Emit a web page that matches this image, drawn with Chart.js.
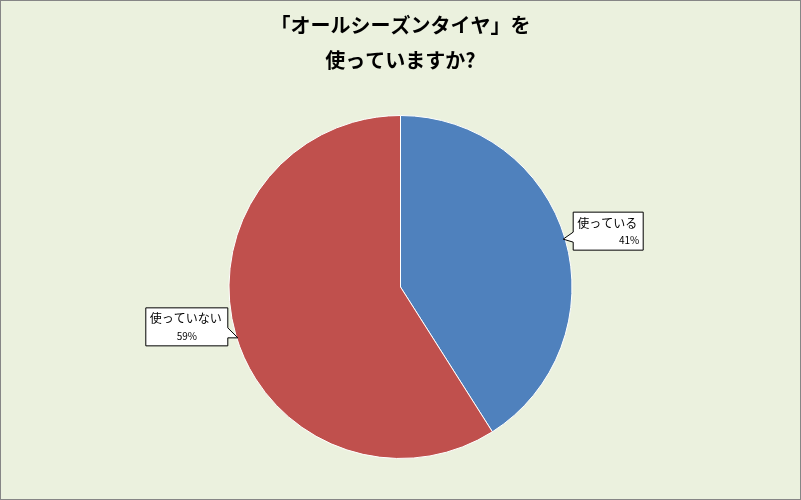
<!DOCTYPE html>
<html>
<head>
<meta charset="utf-8">
<script src="https://cdn.jsdelivr.net/npm/chart.js@4"></script>
<style>
  body { margin: 0; background: #fff; }
  #wrap { width: 801px; height: 500px; }
</style>
</head>
<body>
<div id="wrap"><canvas id="pieChart" width="801" height="500"></canvas></div>
<script>
const categories = ["使っている", "使っていない"];
const values = [41, 59];
const colors = ["#4F81BD", "#C0504D"];
const titleLines = ["「オールシーズンタイヤ」を", "使っていますか?"];

const jpFont = "'Noto Sans CJK JP', 'Noto Sans', sans-serif";

// background + frame
const bgPlugin = {
  id: "bg",
  beforeDraw(chart) {
    const ctx = chart.ctx;
    ctx.save();
    ctx.fillStyle = "#EBF1DE";
    ctx.fillRect(0, 0, chart.width, chart.height);
    ctx.strokeStyle = "#868686";
    ctx.lineWidth = 1;
    ctx.strokeRect(0.5, 0.5, chart.width - 1, chart.height - 1);
    ctx.restore();
  }
};

// callout boxes next to each slice
const calloutPlugin = {
  id: "callout",
  afterDatasetsDraw(chart) {
    const ctx = chart.ctx;
    const meta = chart.getDatasetMeta(0);
    const total = values.reduce((a, b) => a + b, 0);
    meta.data.forEach((arc, i) => {
      const mid = (arc.startAngle + arc.endAngle) / 2;
      const px = arc.x + Math.cos(mid) * arc.outerRadius;
      const py = arc.y + Math.sin(mid) * arc.outerRadius;
      const line1 = categories[i];
      const line2 = Math.round(values[i] / total * 100) + "%";
      ctx.save();
      ctx.font = "12px " + jpFont;
      const w = Math.max(ctx.measureText(line1).width, ctx.measureText(line2).width) + 10;
      const h = 38;
      const right = Math.cos(mid) > 0;
      const bx = right ? px + 8 : px - 8 - w;
      const by = py - 27;
      ctx.fillStyle = "#fff";
      ctx.strokeStyle = "#000";
      ctx.lineWidth = 1;
      ctx.beginPath();
      if (right) {
        ctx.moveTo(bx, by);
        ctx.lineTo(bx + w, by);
        ctx.lineTo(bx + w, by + h);
        ctx.lineTo(bx, by + h);
        ctx.lineTo(bx, by + 30);
        ctx.lineTo(px - 2, py);
        ctx.lineTo(bx, by + 20);
      } else {
        ctx.moveTo(bx, by);
        ctx.lineTo(bx + w, by);
        ctx.lineTo(bx + w, by + 20);
        ctx.lineTo(px + 2, py + 3);
        ctx.lineTo(bx + w, by + 30);
        ctx.lineTo(bx + w, by + h);
        ctx.lineTo(bx, by + h);
      }
      ctx.closePath();
      ctx.fill();
      ctx.stroke();
      ctx.fillStyle = "#000";
      ctx.textBaseline = "middle";
      ctx.textAlign = right ? "left" : "left";
      ctx.fillText(line1, bx + 4, by + 11);
      ctx.font = "10px " + jpFont;
      ctx.textAlign = right ? "right" : "center";
      ctx.fillText(line2, right ? bx + w - 4 : bx + w / 2, by + 28);
      ctx.restore();
    });
  }
};

new Chart(document.getElementById("pieChart"), {
  type: "pie",
  data: {
    labels: categories,
    datasets: [{
      data: values,
      backgroundColor: colors,
      borderColor: "#ffffff",
      borderWidth: 1
    }]
  },
  options: {
    responsive: false,
    animation: false,
    layout: { padding: { top: 0, bottom: 41, left: 0, right: 0 } },
    plugins: {
      legend: { display: false },
      tooltip: { enabled: false },
      title: {
        display: true,
        text: titleLines,
        color: "#000",
        font: { family: jpFont, size: 20, weight: "bold", lineHeight: 1.75 },
        padding: { top: 8, bottom: 37 }
      }
    }
  },
  plugins: [bgPlugin, calloutPlugin]
});
</script>
</body>
</html>
